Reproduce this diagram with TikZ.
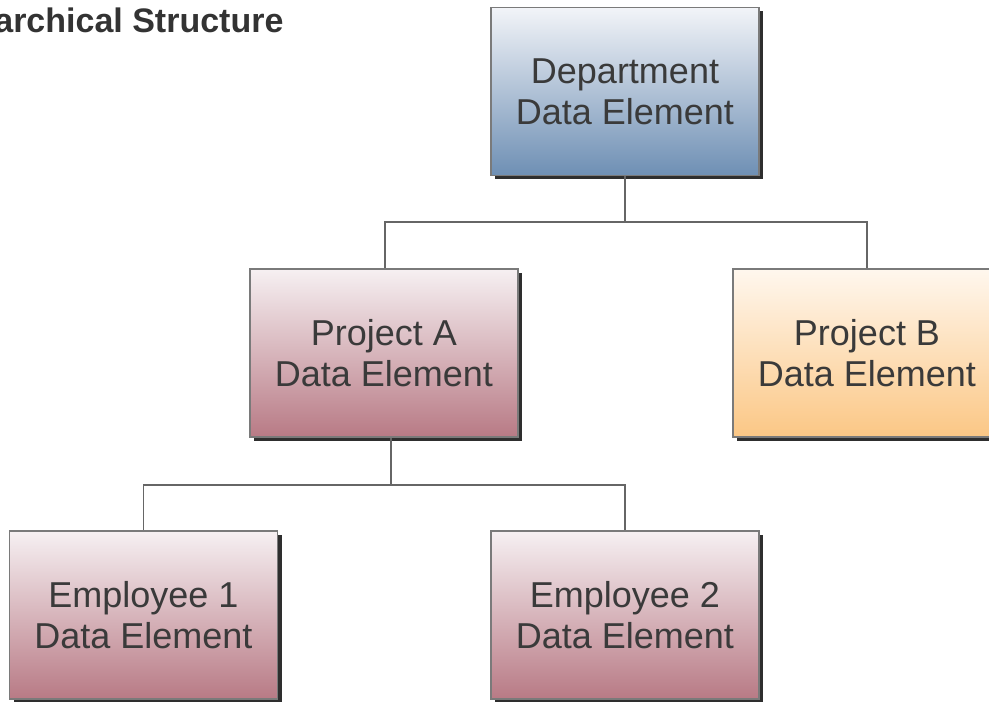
\documentclass[tikz,border=0pt]{standalone}
\usepackage{fontspec}
\setmainfont{Liberation Sans}
\usetikzlibrary{shadows}
\definecolor{txtc}{HTML}{3A3A3A}
\definecolor{titlec}{HTML}{333333}
\definecolor{borderc}{HTML}{7A7A7A}
\definecolor{shadowc}{HTML}{2E2E2E}
\definecolor{linec}{HTML}{666666}
\definecolor{blueT}{HTML}{F2F4F8}
\definecolor{blueB}{HTML}{6E8FB4}
\definecolor{roseT}{HTML}{F6F0F2}
\definecolor{roseB}{HTML}{B87A85}
\definecolor{orangeT}{HTML}{FFF7EE}
\definecolor{orangeB}{HTML}{FBC785}
\tikzset{
  databox/.style={draw=borderc, line width=1.3pt, minimum width=268pt, minimum height=168pt,
    inner sep=0pt, align=center, text=txtc, font=\fontsize{36}{41}\selectfont,
    general shadow={fill=shadowc, shadow xshift=4pt, shadow yshift=-4pt}},
  bluebox/.style={databox, top color=blueT, bottom color=blueB},
  rosebox/.style={databox, top color=roseT, bottom color=roseB},
  orangebox/.style={databox, top color=orangeT, bottom color=orangeB},
  conn/.style={draw=linec, line width=1.5pt}
}
\begin{document}
\begin{tikzpicture}[x=1pt,y=1pt]
\useasboundingbox (0,0) rectangle (989,702);
\node[anchor=base east, font=\bfseries\fontsize{34}{38}\selectfont, text=titlec] (title) at (287,669) {archical Structure};
\node[bluebox] (dept) at (625,610.5) {Department\\Data Element};
\node[rosebox] (pa) at (384,349) {Project A\\Data Element};
\node[orangebox] (pb) at (867,349) {Project B\\Data Element};
\node[rosebox] (e1) at (143.5,87) {Employee 1\\Data Element};
\node[rosebox] (e2) at (625,87) {Employee 2\\Data Element};
\coordinate (busA) at (625,480);
\coordinate (busB) at (391,217);
\draw[conn] (dept.south) -- (busA);
\draw[conn] (busA) -| ([xshift=1pt]pa.north);
\draw[conn] (busA) -| (pb.north);
\draw[conn] ([xshift=7pt]pa.south) -- (busB);
\draw[conn] (busB) -| (e1.north);
\draw[conn] (busB) -| (e2.north);
\end{tikzpicture}
\end{document}
